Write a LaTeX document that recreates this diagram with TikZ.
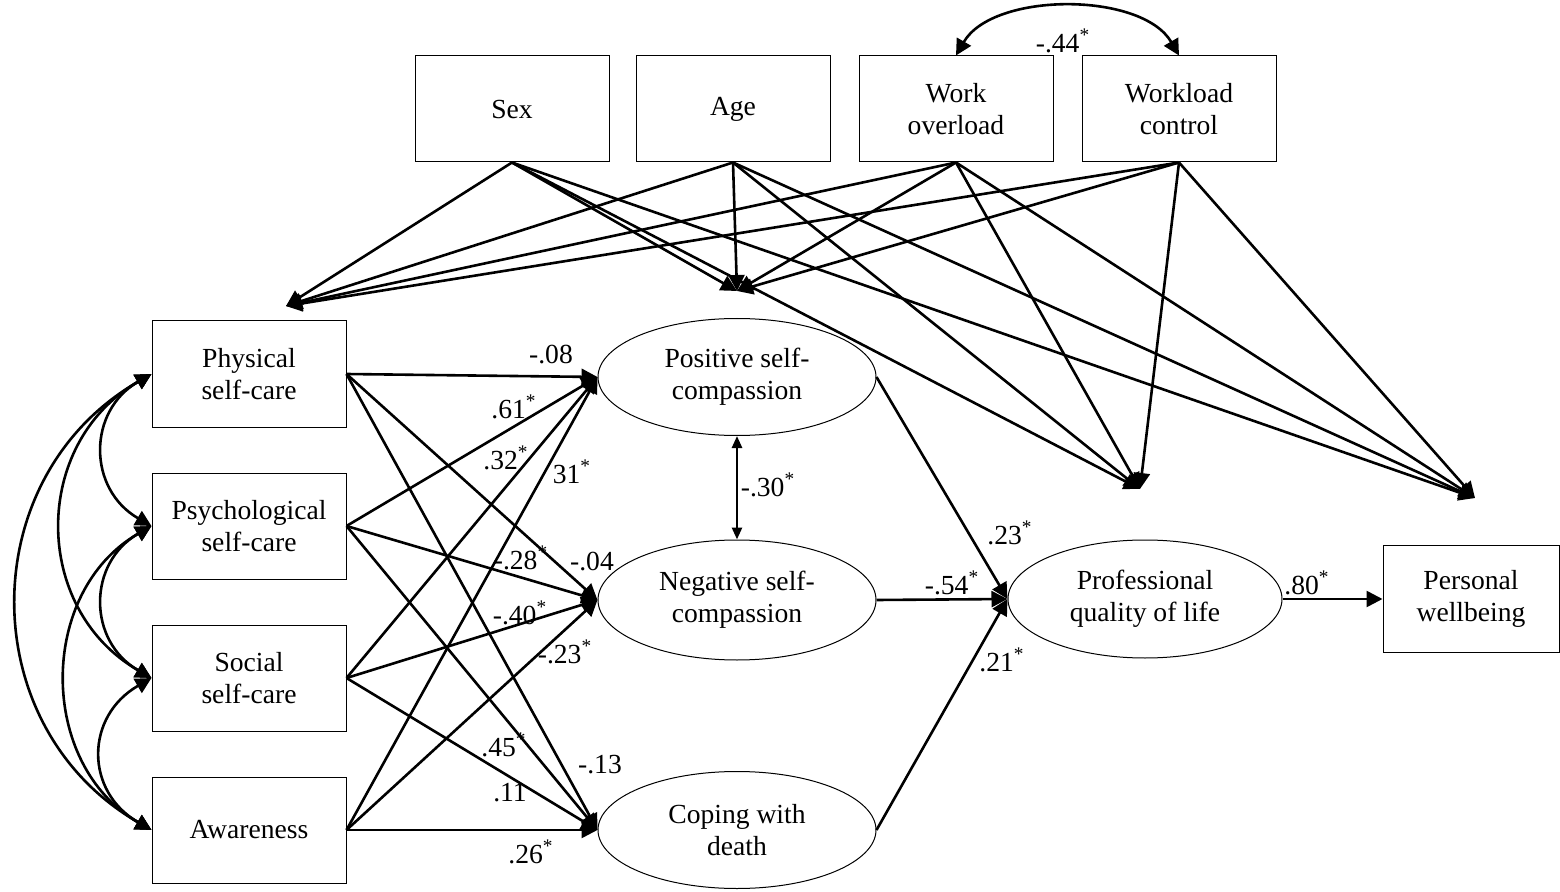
\documentclass[tikz,border=0pt]{standalone}
\usepackage{fontspec}
\setmainfont{Liberation Serif}
\usepackage{tikz}
\usetikzlibrary{shapes,arrows.meta,positioning}
\tikzstyle{box} = [rectangle, draw, line width=0.5pt, minimum width=97pt,
    minimum height=53pt, align=center, inner sep=0pt]
\tikzstyle{latent} = [ellipse, draw, line width=0.5pt, minimum width=139pt,
    minimum height=58.5pt, align=center, inner sep=0pt]
\tikzstyle{arrow} = [-{Triangle[length=8pt,width=8pt]}, line width=1.3pt]
\tikzstyle{cov} = [{Triangle[length=8pt,width=8pt]}-{Triangle[length=8pt,width=8pt]}, line width=1.3pt]
\tikzstyle{smallcov} = [{Triangle[length=6pt,width=5pt]}-{Triangle[length=6pt,width=5pt]}, line width=1.3pt]
\tikzstyle{coef} = [inner sep=1pt]
\newcommand{\sig}{\textsuperscript{*}}

\begin{document}
\begin{tikzpicture}[x=0.5pt, y=0.5pt, font=\fontsize{13.8}{16}\selectfont]
\useasboundingbox (0,0) rectangle (1560,891);
% covariates
\node[box] (sex) at (512,782) {Sex};
\node[box, right=13pt of sex] (age) {Age};
\node[box, right=14pt of age] (work) {Work\\overload};
\node[box, right=14pt of work] (control) {Workload\\control};
% self-care
\node[box] (phys) at (249,517) {Physical\\self-care};
\node[box, below=22.5pt of phys] (psych) {Psychological\\self-care};
\node[box, below=22.5pt of psych] (social) {Social\\self-care};
\node[box, below=22.5pt of social] (aware) {Awareness};
% mediators and outcomes
\node[latent] (pos) at (737,514) {Positive self-\\compassion};
\node[latent, minimum height=60pt] (neg) at (737,291) {Negative self-\\compassion};
\node[latent] (cope) at (737,61) {Coping with\\death};
\node[latent, minimum width=137pt, minimum height=59pt] (prof) at (1145,292) {Professional\\quality of life};
\node[box, minimum width=88pt, minimum height=53.5pt] (well) at (1471,292) {Personal\\wellbeing};

% where the covariate paths end
\coordinate (tphys) at (286,585);
\coordinate (tpos) at (737,600);
\coordinate (tprof) at (1140,402);
\coordinate (twell) at (1475,393);

\foreach \s in {sex,age,work,control}
  \foreach \t in {tphys,tpos,tprof,twell}
    \draw[arrow] (\s.south) -- (\t);

\draw[cov] (work.north) to[out=60,in=120,looseness=0.85] (control.north);

% self-care to self-compassion
\foreach \s in {phys,psych,social,aware}
  \foreach \t in {pos,neg,cope}
    \draw[arrow] (\s.east) -- (\t.west);

\draw[arrow] (pos.east) -- (prof.west);
\draw[arrow] (neg.east) -- (prof.west);
\draw[arrow] (cope.east) -- (prof.west);
\draw[arrow] (prof.east) -- (well.west);
\draw[smallcov] (pos.south) -- (neg.north);

% correlations between self-care
\draw[cov] (phys.west) to[out=210,in=150,looseness=1.25] (psych.west);
\draw[cov] (psych.west) to[out=210,in=150,looseness=1.25] (social.west);
\draw[cov] (social.west) to[out=210,in=150,looseness=1.3] (aware.west);
\draw[cov] (phys.west) to[out=210,in=150,looseness=1.17] (social.west);
\draw[cov] (psych.west) to[out=210,in=150,looseness=1.11] (aware.west);
\draw[cov] (phys.west) to[out=210,in=150,looseness=1.16] (aware.west);

% coefficients
\node[coef] (k1) at (551,536) {-.08};
\node[coef] (k2) at (514,484) {.61\sig};
\node[coef] (k3) at (506,433) {.32\sig};
\node[coef] (k4) at (572,419) {31\sig};
\node[coef] (k5) at (521,333) {-.28\sig};
\node[coef] (k6) at (592,329) {-.04};
\node[coef] (k7) at (520,278) {-.40\sig};
\node[coef] (k8) at (565,239) {-.23\sig};
\node[coef] (k9) at (504,146) {.45\sig};
\node[coef] (k10) at (600,126) {-.13};
\node[coef] (k11) at (510,98) {.11};
\node[coef] (k12) at (531,39) {.26\sig};
\node[coef] (k13) at (768,406) {-.30\sig};
\node[coef] (k14) at (1010,358) {.23\sig};
\node[coef] (k15) at (952,308) {-.54\sig};
\node[coef] (k16) at (1002,231) {.21\sig};
\node[coef] (k17) at (1307,308) {.80\sig};
\node[coef] (k18) at (1063,850) {-.44\sig};
\end{tikzpicture}
\end{document}
